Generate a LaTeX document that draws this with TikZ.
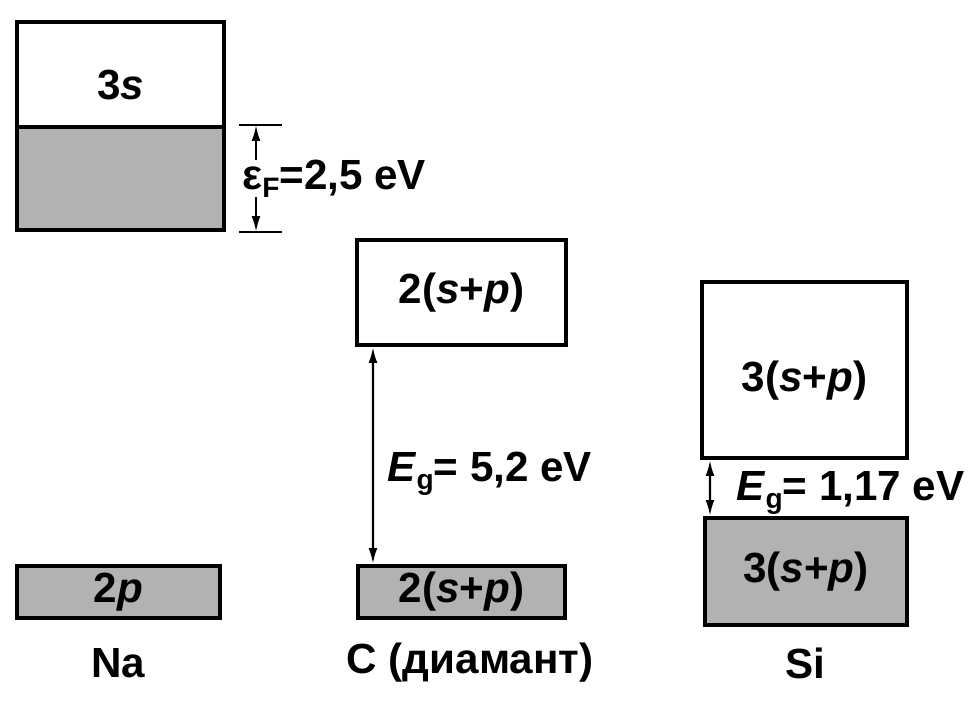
\documentclass[tikz,border=0pt]{standalone}
\usepackage{fontspec}
\setmainfont{Liberation Sans}
\usetikzlibrary{arrows.meta,calc}
\newcommand{\sub}[1]{\raisebox{-0.35ex}{\fontsize{16}{16}\selectfont #1}}

\begin{document}
\begin{tikzpicture}[
    band/.style={draw,line width=2.3pt,inner sep=0pt,font=\fontsize{24}{28}\selectfont\bfseries},
    filled/.style={band,fill=black!30},
    lbl/.style={inner sep=0pt,font=\fontsize{24}{28}\selectfont\bfseries},
    gap/.style={{Latex[length=9pt,width=5pt]}-{Latex[length=9pt,width=5pt]},line width=1.3pt},
    half/.style={-{Latex[length=9pt,width=5pt]},line width=1.3pt},
    tick/.style={line width=1.3pt},
  ]
  \useasboundingbox (0,0) rectangle (19.54,14.14);

  % ---------------------------------------------------------------- Na
  \node[band,minimum width=4.14cm,minimum height=2.1cm]    (na3s)  at (2.41,12.65) {\raisebox{-0.5cm}[0pt][0pt]{3\textit{s}}};
  \node[filled,minimum width=4.14cm,minimum height=2.06cm] (nafill) at (2.41,10.57) {};
  \node[filled,minimum width=4.06cm,minimum height=1.04cm] (na2p)  at (2.37,2.30) {2\textit{p}};
  \node[lbl] (na) at (2.36,0.88) {Na};

  % Fermi energy
  \coordinate (ftop) at ($(nafill.north east)+(0.26,0)$);
  \coordinate (fbot) at ($(nafill.south east)+(0.26,0)$);
  \draw[tick] (ftop) -- ++(0.86,0);
  \draw[tick] (fbot) -- ++(0.86,0);
  \draw[half] ($(ftop)+(0.34,-0.7)$) -- ($(ftop)+(0.34,0)$);
  \draw[half] ($(fbot)+(0.34,0.7)$) -- ($(fbot)+(0.34,0)$);
  \node[lbl,anchor=west] (ef) at (4.84,10.56) {ε\sub{F}=2,5 eV};

  % ---------------------------------------------------------------- C
  \node[band,minimum width=4.18cm,minimum height=2.1cm]    (cup)  at (9.23,8.29) {2(\textit{s}+\textit{p})};
  \node[filled,minimum width=4.14cm,minimum height=1.04cm] (clow) at (9.23,2.30) {2(\textit{s}+\textit{p})};
  \node[lbl] (c) at (9.4,0.88) {C (диамант)};
  \draw[gap] ($(cup.south west)+(0.36,0)$) -- ($(clow.north west)+(0.34,0)$);
  \node[lbl,anchor=base west] (ceg) at (7.74,4.5) {\textit{E}\sub{g}= 5,2 eV};

  % ---------------------------------------------------------------- Si
  \node[band,minimum width=4.1cm,minimum height=3.52cm]    (sup)  at (16.09,6.74) {\raisebox{-0.44cm}[0pt][0pt]{3(\textit{s}+\textit{p})}};
  \node[filled,minimum width=4.04cm,minimum height=2.14cm] (slow) at (16.12,2.71) {3(\textit{s}+\textit{p})};
  \node[lbl] (si) at (16.1,0.88) {Si};
  \draw[gap] ($(sup.south west)+(0.2,0)$) -- ($(slow.north west)+(0.14,0)$);
  \node[lbl,anchor=base west] (sieg) at (14.72,4.12) {\textit{E}\sub{g}= 1,17 eV};
\end{tikzpicture}
\end{document}
